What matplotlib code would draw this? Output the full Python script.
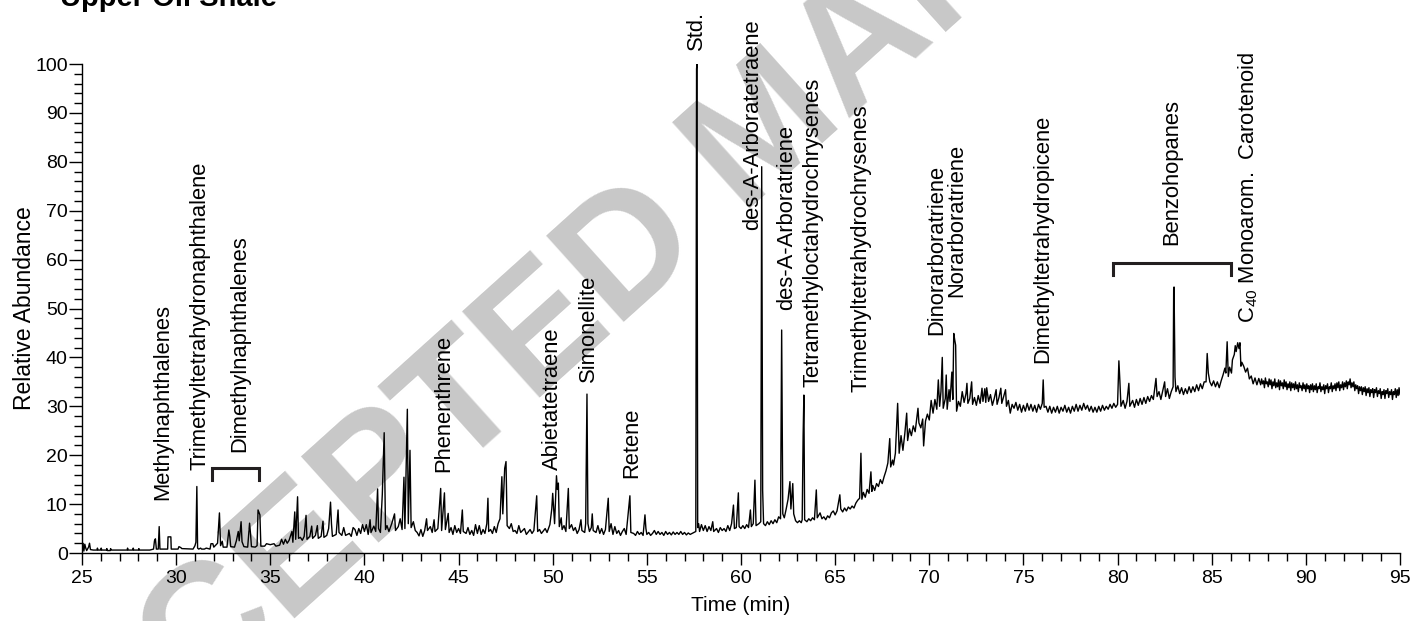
import numpy as np
import matplotlib
matplotlib.use("Agg")
import matplotlib.pyplot as plt
from matplotlib.ticker import MultipleLocator

plt.rcParams["font.family"] = ["Liberation Sans", "DejaVu Sans"]
plt.rcParams["mathtext.fontset"] = "custom"
plt.rcParams["mathtext.rm"] = "Liberation Sans"

# TIC trace: (retention time in min, relative abundance in %)
trace_25_40 = [
    (25.00, 1.6), (25.05, 2.0), (25.10, 0.4), (25.15, 1.8), (25.20, 1.0), (25.25, 0.5),
    (25.35, 1.2), (25.40, 2.0), (25.45, 0.7), (25.60, 0.6), (25.80, 0.6), (25.82, 1.0),
    (25.85, 0.6), (26.00, 0.6), (26.02, 1.0), (26.05, 0.6), (26.30, 0.6), (26.32, 0.9),
    (26.35, 0.5), (26.50, 0.5), (26.52, 0.9), (26.55, 0.6), (27.00, 0.6), (27.40, 0.6),
    (27.42, 1.0), (27.45, 0.6), (27.70, 0.6), (27.72, 1.0), (27.75, 0.6), (28.00, 0.6),
    (28.02, 0.9), (28.05, 0.6), (28.60, 0.6), (28.80, 0.8), (28.85, 2.5), (28.90, 2.9),
    (28.95, 0.8), (29.05, 0.8), (29.10, 5.4), (29.14, 0.8), (29.55, 0.8), (29.57, 3.3),
    (29.72, 3.3), (29.74, 0.8), (30.10, 0.8), (30.15, 1.3), (30.25, 1.1), (30.30, 0.9),
    (30.90, 0.8), (31.00, 1.5), (31.05, 2.2), (31.10, 13.6), (31.14, 1.0), (31.20, 0.8),
    (31.30, 1.0), (31.35, 0.8), (31.50, 0.8), (31.60, 1.0), (31.80, 0.8), (31.85, 1.9),
    (31.95, 1.9), (32.00, 1.2), (32.20, 2.0), (32.30, 8.2), (32.36, 1.5), (32.45, 2.4),
    (32.50, 1.2), (32.70, 1.2), (32.80, 4.7), (32.85, 3.4), (32.90, 1.3), (33.10, 1.2),
    (33.20, 2.5), (33.30, 4.4), (33.35, 2.5), (33.45, 6.4), (33.50, 2.3), (33.60, 1.3),
    (33.80, 1.2), (33.90, 6.1), (33.95, 4.0), (34.00, 1.3), (34.20, 1.2), (34.30, 1.5),
    (34.35, 8.8), (34.45, 7.8), (34.50, 1.4), (34.70, 1.4), (34.80, 1.9), (35.00, 1.7),
    (35.20, 1.9), (35.30, 1.4), (35.50, 1.6), (35.60, 2.8), (35.70, 1.8), (35.80, 2.8),
    (35.90, 2.0), (36.00, 2.6), (36.15, 4.4), (36.20, 2.2), (36.30, 8.4), (36.35, 2.8),
    (36.45, 11.5), (36.50, 3.0), (36.60, 3.2), (36.70, 2.6), (36.80, 3.4), (36.90, 7.7),
    (36.95, 2.8), (37.10, 3.4), (37.20, 5.5), (37.25, 3.0), (37.40, 3.6), (37.50, 5.6),
    (37.55, 3.0), (37.70, 3.4), (37.80, 6.5), (37.85, 3.2), (38.00, 3.6), (38.10, 5.0),
    (38.20, 10.4), (38.25, 6.0), (38.30, 3.4), (38.50, 3.8), (38.60, 8.8), (38.65, 4.2),
    (38.80, 3.6), (38.90, 5.2), (39.00, 3.6), (39.20, 4.0), (39.30, 3.4), (39.40, 5.2),
    (39.50, 4.8), (39.60, 3.6), (39.70, 5.0), (39.80, 4.0), (39.90, 5.8),
]
trace_40_55 = [
    (40.00, 4.4), (40.10, 5.8), (40.20, 3.8), (40.30, 6.8), (40.35, 4.2), (40.50, 5.5),
    (40.60, 4.4), (40.70, 13.1), (40.75, 5.0), (40.85, 4.2), (40.95, 12.0), (41.05, 24.6),
    (41.12, 4.8), (41.20, 5.6), (41.30, 4.4), (41.45, 6.0), (41.60, 8.0), (41.65, 4.6),
    (41.80, 5.4), (41.90, 7.0), (42.00, 4.8), (42.10, 15.5), (42.15, 5.0), (42.28, 29.4),
    (42.33, 6.0), (42.42, 21.0), (42.48, 5.2), (42.60, 6.4), (42.70, 4.6), (42.80, 4.2),
    (42.90, 3.5), (43.00, 4.8), (43.10, 3.4), (43.20, 4.6), (43.30, 7.0), (43.35, 4.6),
    (43.50, 5.4), (43.60, 4.2), (43.70, 6.8), (43.75, 4.4), (43.90, 5.0), (44.05, 13.2),
    (44.10, 4.6), (44.25, 12.3), (44.30, 4.8), (44.45, 8.1), (44.50, 4.2), (44.60, 5.2),
    (44.70, 3.8), (44.80, 5.6), (44.90, 4.2), (45.00, 5.0), (45.10, 4.0), (45.20, 8.8),
    (45.25, 4.4), (45.40, 4.0), (45.50, 5.2), (45.60, 3.8), (45.70, 4.6), (45.80, 3.6),
    (45.90, 5.8), (46.00, 4.0), (46.10, 5.6), (46.20, 3.8), (46.30, 4.8), (46.40, 4.0),
    (46.50, 6.0), (46.56, 11.2), (46.60, 4.4), (46.70, 4.8), (46.80, 4.0), (46.90, 5.4),
    (47.00, 4.2), (47.10, 6.0), (47.20, 7.0), (47.30, 15.6), (47.35, 8.0), (47.45, 17.3),
    (47.52, 18.7), (47.58, 5.6), (47.70, 5.0), (47.80, 6.0), (47.90, 4.4), (48.00, 4.6),
    (48.10, 4.0), (48.20, 5.6), (48.30, 4.2), (48.50, 5.0), (48.60, 3.8), (48.80, 4.8),
    (48.90, 4.0), (49.00, 4.6), (49.15, 11.7), (49.20, 4.4), (49.30, 4.8), (49.40, 4.0),
    (49.60, 5.0), (49.70, 4.2), (49.85, 5.8), (49.95, 9.0), (50.00, 12.2), (50.10, 6.0),
    (50.20, 15.8), (50.25, 13.0), (50.30, 14.3), (50.35, 5.4), (50.45, 7.2), (50.50, 4.8),
    (50.60, 5.6), (50.70, 4.4), (50.83, 13.2), (50.88, 5.0), (51.00, 5.8), (51.10, 4.6),
    (51.20, 5.2), (51.30, 4.0), (51.40, 4.8), (51.50, 6.8), (51.55, 4.6), (51.70, 4.2),
    (51.75, 6.0), (51.82, 32.5), (51.87, 6.0), (51.95, 4.4), (52.05, 5.2), (52.10, 8.0),
    (52.15, 4.6), (52.30, 4.2), (52.40, 5.6), (52.50, 4.0), (52.60, 5.0), (52.70, 3.8),
    (52.80, 4.8), (52.95, 11.2), (53.00, 4.4), (53.10, 6.0), (53.20, 3.8), (53.30, 5.4),
    (53.40, 4.0), (53.50, 4.6), (53.60, 3.6), (53.70, 4.4), (53.80, 5.0), (53.90, 3.8),
    (54.10, 11.7), (54.15, 4.2), (54.30, 4.0), (54.40, 3.6), (54.50, 4.4), (54.60, 3.8),
    (54.70, 4.2), (54.80, 3.6), (54.90, 7.8), (54.95, 5.0),
]
trace_55_70 = [
    (55.00, 3.8), (55.10, 4.2), (55.20, 3.6), (55.30, 4.0), (55.40, 4.6), (55.50, 3.8),
    (55.60, 4.4), (55.70, 3.8), (55.80, 4.2), (55.90, 3.6), (56.00, 4.4), (56.10, 3.8),
    (56.20, 4.2), (56.30, 3.7), (56.40, 4.3), (56.50, 3.8), (56.60, 4.2), (56.70, 3.8),
    (56.80, 4.4), (56.90, 3.8), (57.00, 4.2), (57.10, 3.7), (57.20, 4.1), (57.30, 3.8),
    (57.40, 4.0), (57.50, 4.2), (57.60, 4.4), (57.64, 99.0), (57.66, 100.0), (57.70, 5.2),
    (57.75, 6.0), (57.80, 4.4), (57.90, 5.8), (58.00, 4.6), (58.10, 5.6), (58.20, 4.4),
    (58.30, 5.4), (58.40, 4.6), (58.50, 6.4), (58.55, 4.4), (58.70, 5.0), (58.80, 4.2),
    (58.90, 5.2), (59.00, 4.6), (59.10, 5.0), (59.20, 4.4), (59.30, 5.6), (59.40, 4.6),
    (59.50, 6.0), (59.60, 9.8), (59.65, 5.0), (59.75, 5.2), (59.86, 12.3), (59.90, 5.4),
    (60.00, 5.0), (60.10, 5.6), (60.20, 5.0), (60.30, 5.8), (60.40, 5.2), (60.50, 8.8),
    (60.55, 5.4), (60.65, 6.0), (60.74, 14.9), (60.80, 5.6), (60.95, 6.0), (61.05, 6.4),
    (61.10, 79.0), (61.15, 12.8), (61.20, 6.0), (61.30, 5.6), (61.40, 6.4), (61.50, 5.8),
    (61.60, 6.6), (61.70, 6.0), (61.80, 6.8), (61.90, 6.2), (62.00, 7.4), (62.10, 7.0),
    (62.16, 45.6), (62.22, 8.0), (62.30, 7.2), (62.40, 9.0), (62.50, 11.0), (62.60, 14.6),
    (62.65, 9.0), (62.75, 14.2), (62.80, 8.0), (62.90, 6.6), (63.00, 6.2), (63.10, 6.6),
    (63.20, 6.2), (63.25, 6.8), (63.30, 24.0), (63.34, 32.3), (63.38, 6.8), (63.50, 6.4),
    (63.60, 7.0), (63.70, 6.6), (63.80, 7.2), (63.90, 6.8), (64.00, 12.9), (64.05, 7.2),
    (64.20, 8.2), (64.30, 7.0), (64.40, 7.4), (64.50, 6.8), (64.60, 7.6), (64.70, 7.2),
    (64.80, 8.2), (64.90, 8.6), (65.00, 7.8), (65.10, 8.6), (65.25, 11.9), (65.30, 9.0),
    (65.40, 8.4), (65.50, 9.2), (65.60, 8.6), (65.70, 9.4), (65.80, 9.0), (65.90, 9.6),
    (66.00, 9.2), (66.10, 10.2), (66.20, 10.8), (66.30, 11.2), (66.37, 20.4), (66.42, 11.0),
    (66.50, 12.4), (66.60, 11.4), (66.70, 13.0), (66.80, 12.2), (66.90, 16.6), (66.95, 12.6),
    (67.00, 13.8), (67.10, 12.8), (67.20, 14.2), (67.30, 13.6), (67.40, 15.0), (67.50, 14.2),
    (67.60, 15.6), (67.70, 16.8), (67.80, 18.4), (67.90, 23.4), (67.95, 17.6), (68.05, 19.0),
    (68.10, 18.0), (68.20, 20.4), (68.32, 30.6), (68.40, 20.4), (68.50, 24.0), (68.60, 21.0),
    (68.70, 24.4), (68.80, 28.6), (68.85, 23.0), (68.95, 25.4), (69.05, 24.0), (69.15, 26.0),
    (69.25, 24.8), (69.40, 29.6), (69.45, 26.6), (69.55, 25.6), (69.65, 27.4), (69.70, 21.9),
    (69.80, 27.0), (69.90, 28.4),
]
trace_70_87 = [
    (70.00, 27.2), (70.10, 31.2), (70.20, 28.6), (70.30, 31.4), (70.40, 29.4), (70.48, 35.4),
    (70.55, 30.0), (70.62, 33.0), (70.69, 40.0), (70.74, 29.6), (70.85, 31.6), (70.90, 36.4),
    (70.95, 29.4), (71.05, 33.4), (71.10, 31.0), (71.20, 37.0), (71.25, 31.4), (71.30, 44.9),
    (71.35, 43.6), (71.40, 42.5), (71.45, 29.0), (71.55, 31.0), (71.65, 30.0), (71.75, 33.0),
    (71.85, 30.8), (71.95, 32.6), (72.00, 34.7), (72.05, 30.6), (72.15, 31.6), (72.25, 35.0),
    (72.30, 30.4), (72.40, 31.8), (72.50, 30.2), (72.60, 32.2), (72.70, 30.6), (72.80, 33.7),
    (72.85, 31.0), (72.95, 33.6), (73.00, 30.8), (73.05, 33.8), (73.15, 31.0), (73.25, 32.4),
    (73.35, 30.2), (73.45, 31.6), (73.55, 33.4), (73.60, 30.4), (73.70, 31.8), (73.80, 33.7),
    (73.85, 30.6), (73.95, 32.0), (74.05, 33.4), (74.10, 30.0), (74.20, 31.2), (74.30, 28.6),
    (74.40, 30.4), (74.50, 29.6), (74.60, 30.8), (74.70, 29.2), (74.80, 30.4), (74.90, 28.8),
    (75.00, 30.2), (75.10, 29.0), (75.20, 30.6), (75.30, 29.2), (75.40, 30.4), (75.50, 29.0),
    (75.60, 30.2), (75.70, 28.8), (75.80, 30.4), (75.90, 29.4), (76.00, 30.6), (76.05, 35.4),
    (76.10, 29.8), (76.20, 30.0), (76.30, 28.8), (76.40, 30.0), (76.50, 28.6), (76.60, 29.8),
    (76.70, 28.8), (76.80, 30.0), (76.90, 28.6), (77.00, 29.8), (77.10, 29.0), (77.20, 30.2),
    (77.30, 28.8), (77.40, 29.8), (77.50, 28.6), (77.60, 30.0), (77.70, 29.0), (77.80, 30.4),
    (77.90, 29.0), (78.00, 30.2), (78.10, 29.2), (78.20, 30.6), (78.30, 29.4), (78.40, 30.2),
    (78.50, 29.0), (78.60, 30.0), (78.70, 28.8), (78.80, 29.8), (78.90, 28.8), (79.00, 30.0),
    (79.10, 29.0), (79.20, 30.2), (79.30, 29.2), (79.40, 30.0), (79.50, 29.4), (79.60, 30.4),
    (79.70, 29.6), (79.80, 30.6), (79.90, 29.8), (80.00, 30.4), (80.07, 39.3), (80.12, 35.4),
    (80.18, 30.0), (80.30, 31.2), (80.40, 29.6), (80.50, 31.0), (80.60, 34.7), (80.65, 30.0),
    (80.80, 31.2), (80.90, 29.8), (81.00, 31.4), (81.10, 30.2), (81.20, 31.6), (81.30, 30.4),
    (81.40, 31.8), (81.50, 30.6), (81.60, 32.0), (81.70, 31.0), (81.80, 32.2), (81.90, 31.4),
    (82.04, 35.7), (82.10, 32.0), (82.20, 33.0), (82.30, 31.4), (82.40, 33.2), (82.50, 35.0),
    (82.55, 32.0), (82.65, 33.6), (82.75, 31.6), (82.85, 33.0), (82.95, 34.0), (82.98, 54.0),
    (83.00, 54.4), (83.05, 36.0), (83.10, 33.0), (83.20, 34.2), (83.30, 32.6), (83.40, 33.8),
    (83.50, 32.4), (83.60, 33.6), (83.70, 32.6), (83.80, 34.0), (83.90, 32.8), (84.00, 34.0),
    (84.10, 33.0), (84.20, 34.4), (84.30, 33.2), (84.40, 34.6), (84.50, 33.6), (84.60, 35.0),
    (84.70, 35.0), (84.76, 40.8), (84.82, 36.8), (84.90, 35.0), (85.00, 34.2), (85.10, 35.2),
    (85.20, 34.0), (85.30, 35.0), (85.40, 33.8), (85.50, 35.2), (85.60, 36.4), (85.70, 37.8),
    (85.75, 36.8), (85.82, 43.2), (85.88, 36.1), (85.95, 38.0), (86.05, 36.8), (86.10, 39.5),
    (86.20, 40.6), (86.25, 42.4), (86.30, 41.2), (86.38, 43.0), (86.45, 41.8), (86.50, 43.0),
    (86.55, 38.2), (86.60, 39.0), (86.70, 38.2), (86.80, 37.0), (86.90, 37.8),
]
trace_87_95 = [
    (87.00, 35.6), (87.10, 36.2), (87.20, 34.6), (87.30, 35.8), (87.40, 34.4), (87.50, 35.7),
    (87.60, 34.4), (87.65, 35.6), (87.70, 34.6), (87.75, 35.2), (87.80, 33.8), (87.85, 35.8),
    (87.90, 34.6), (87.95, 35.0), (88.00, 34.0), (88.05, 35.6), (88.10, 34.4), (88.15, 35.4),
    (88.20, 33.6), (88.25, 35.0), (88.30, 34.2), (88.35, 35.6), (88.40, 33.8), (88.45, 34.8),
    (88.50, 34.0), (88.55, 35.4), (88.60, 33.4), (88.65, 35.2), (88.70, 34.2), (88.75, 34.8),
    (88.80, 33.6), (88.85, 35.4), (88.90, 34.0), (88.95, 35.0), (89.00, 33.4), (89.05, 34.6),
    (89.10, 33.8), (89.15, 35.0), (89.20, 33.2), (89.25, 34.8), (89.30, 33.8), (89.35, 34.6),
    (89.40, 33.4), (89.45, 35.0), (89.50, 33.6), (89.55, 34.4), (89.60, 33.0), (89.65, 34.8),
    (89.70, 33.8), (89.75, 34.2), (89.80, 33.2), (89.85, 34.8), (89.90, 33.6), (89.95, 34.4),
    (90.00, 33.0), (90.05, 34.6), (90.10, 33.6), (90.15, 34.2), (90.20, 32.8), (90.25, 34.4),
    (90.30, 33.4), (90.35, 34.6), (90.40, 33.0), (90.45, 34.2), (90.50, 33.4), (90.55, 34.6),
    (90.60, 32.8), (90.65, 34.0), (90.70, 33.6), (90.75, 34.8), (90.80, 33.0), (90.85, 34.0),
    (90.90, 33.4), (90.95, 34.4), (91.00, 32.6), (91.05, 34.2), (91.10, 33.6), (91.15, 34.6),
    (91.20, 32.8), (91.25, 34.0), (91.30, 33.6), (91.35, 34.8), (91.40, 33.0), (91.45, 34.2),
    (91.50, 33.6), (91.55, 34.6), (91.60, 33.2), (91.65, 34.8), (91.70, 33.8), (91.75, 35.0),
    (91.80, 33.2), (91.85, 34.4), (91.90, 33.8), (91.95, 35.0), (92.00, 33.4), (92.05, 34.8),
    (92.10, 34.0), (92.15, 35.2), (92.20, 33.6), (92.25, 35.0), (92.30, 34.4), (92.35, 35.6),
    (92.40, 33.8), (92.45, 34.8), (92.50, 34.0), (92.55, 35.0), (92.60, 33.2), (92.65, 34.4),
    (92.70, 33.6), (92.75, 34.2), (92.80, 32.6), (92.85, 34.0), (92.90, 33.2), (92.95, 34.0),
    (93.00, 32.4), (93.05, 33.8), (93.10, 33.0), (93.15, 34.0), (93.20, 32.2), (93.25, 33.6),
    (93.30, 32.8), (93.35, 33.8), (93.40, 32.0), (93.45, 33.4), (93.50, 32.8), (93.55, 33.6),
    (93.60, 31.8), (93.65, 33.4), (93.70, 32.8), (93.75, 33.8), (93.80, 32.0), (93.85, 33.2),
    (93.90, 32.6), (93.95, 33.6), (94.00, 31.6), (94.05, 33.0), (94.10, 32.4), (94.15, 33.4),
    (94.20, 31.6), (94.25, 33.2), (94.30, 32.6), (94.35, 33.6), (94.40, 31.8), (94.45, 33.0),
    (94.50, 32.4), (94.55, 33.4), (94.60, 31.4), (94.65, 33.0), (94.70, 32.4), (94.75, 33.6),
    (94.80, 31.8), (94.85, 33.4), (94.90, 32.2), (94.95, 33.8), (95.00, 32.4),
]

# compound labels: text, retention time, bottom of the label (% scale)
peak_names = [
    "Methylnaphthalenes", "Trimethyltetrahydronaphthalene", "Dimethylnaphthalenes",
    "Phenenthrene", "Abietatetraene", "Simonellite", "Retene", "Std.",
    "des-A-Arboratetraene", "des-A-Arboratriene", "Tetramethyloctahydrochrysenes",
    "Trimethyltetrahydrochrysenes", "Dinorarboratriene", "Norarboratriene",
    "Dimethyltetrahydropicene", "Benzohopanes", r"C$_{40}$ Monoarom.  Carotenoid",
]
peak_rt = [29.3, 31.27, 33.4, 44.2, 50.0, 51.9, 54.2, 57.66,
           60.6, 62.4, 63.8, 66.4, 70.4, 71.45, 76.0, 82.9, 86.95]
peak_label_base = [10.8, 17.0, 20.6, 16.6, 17.0, 35.0, 15.3, 102.9,
                   66.0, 49.7, 34.0, 33.0, 44.6, 52.4, 38.9, 63.0, 47.0]

# group brackets: start, end, top, bottom of the legs
bracket_start = [31.9, 79.75]
bracket_end = [34.4, 86.0]
bracket_top = [17.4, 59.3]
bracket_bottom = [14.9, 56.8]

trace = np.array(trace_25_40 + trace_40_55 + trace_55_70 + trace_70_87 + trace_87_95)

fig = plt.figure(figsize=(14.16, 6.21), dpi=100)
ax = fig.add_axes([0.0579, 0.1095, 0.9308, 0.7874])
ax.patch.set_visible(False)

fig.text(0.5424, 0.786, "ACCEPTED MANUSCRIPT", fontsize=122, fontweight="bold",
         color="#c8c8c8", rotation=42, rotation_mode="anchor",
         ha="center", va="center", zorder=-5)

ax.plot(trace[:, 0], trace[:, 1], color="black", lw=1.0, zorder=3)

for name, rt, base in zip(peak_names, peak_rt, peak_label_base):
    ax.text(rt, base, name, rotation=90, rotation_mode="anchor", ha="left",
            va="center", fontsize=15.8, clip_on=False, zorder=4)

for x0, x1, top, bot in zip(bracket_start, bracket_end, bracket_top, bracket_bottom):
    ax.plot([x0, x0, x1, x1], [bot, top, top, bot], color="#231f20", lw=2.2,
            solid_joinstyle="miter", clip_on=False, zorder=4)

ax.set_xlim(25, 95)
ax.set_ylim(0, 100)
ax.xaxis.set_major_locator(MultipleLocator(5))
ax.xaxis.set_minor_locator(MultipleLocator(1))
ax.yaxis.set_major_locator(MultipleLocator(10))
ax.yaxis.set_minor_locator(MultipleLocator(2))
ax.tick_params(axis="x", which="major", length=8.5, width=1, labelsize=14, pad=3.5)
ax.tick_params(axis="x", which="minor", length=6, width=1)
ax.tick_params(axis="y", which="major", length=9.5, width=1, labelsize=14, pad=0.8)
ax.tick_params(axis="y", which="minor", length=5.5, width=1)
for side in ["top", "right"]:
    ax.spines[side].set_visible(False)
for side in ["left", "bottom"]:
    ax.spines[side].set_linewidth(1)

ax.set_xlabel("Time (min)", fontsize=15, labelpad=7)
ax.set_ylabel("Relative Abundance", fontsize=16.5)
ax.yaxis.set_label_coords(-0.035, 0.5)

fig.text(0.0424, 0.99, "Upper Oil Shale", fontsize=21, fontweight="bold",
         ha="left", va="baseline")

fig.savefig("out.png", dpi=100)
